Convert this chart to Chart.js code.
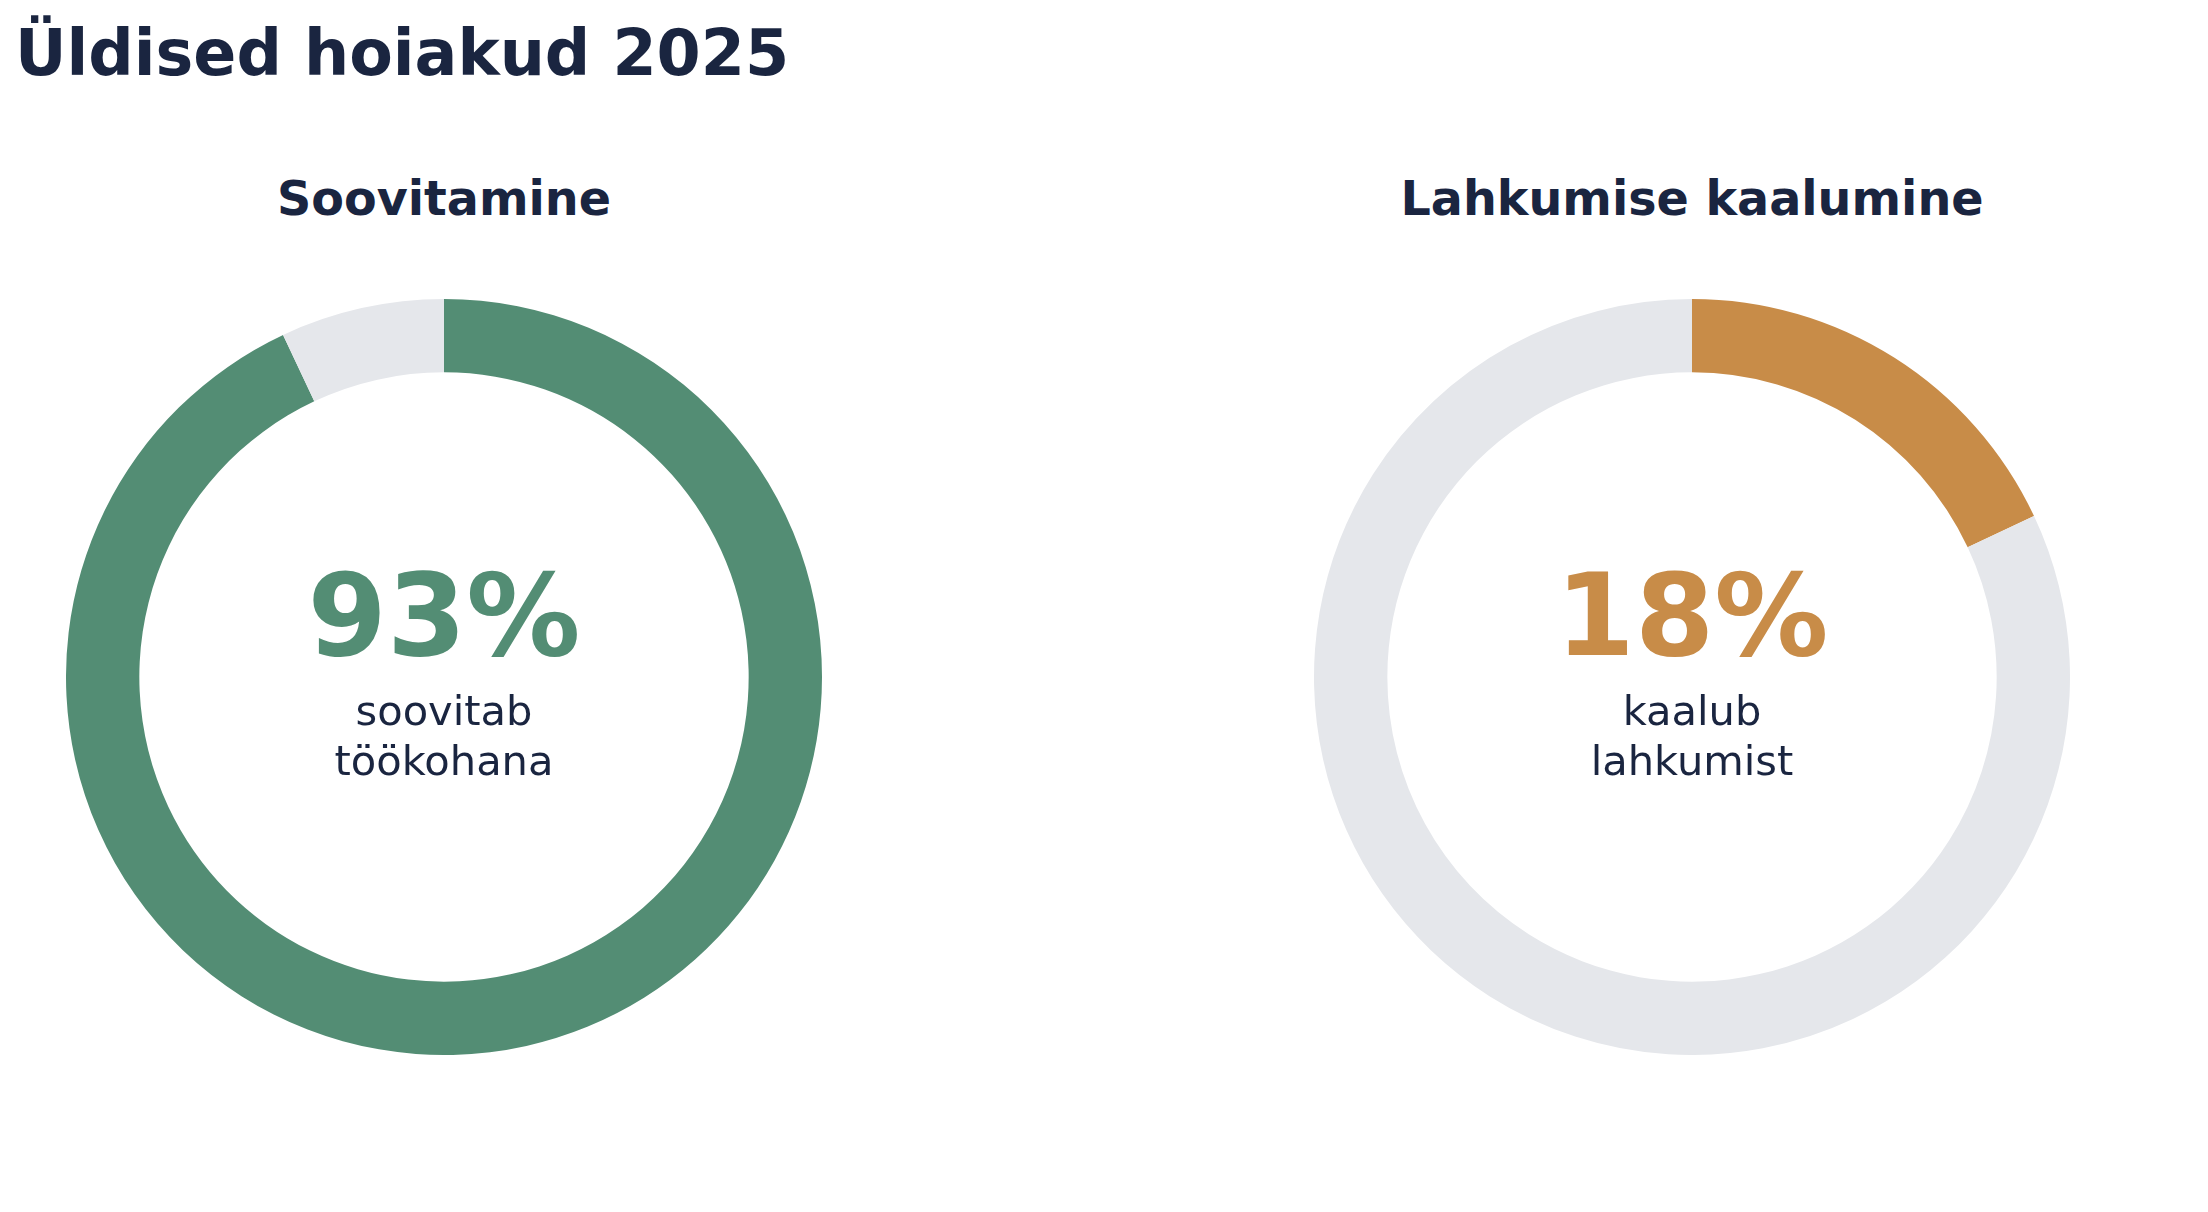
<!DOCTYPE html>
<html lang="et">
<head>
<meta charset="utf-8">
<title>Üldised hoiakud 2025</title>
<script src="https://cdn.jsdelivr.net/npm/chart.js@4.4.1/dist/chart.umd.min.js"></script>
<style>
    html, body {
        margin: 0;
        padding: 0;
        background: #ffffff;
        width: 2208px;
        height: 1212px;
        overflow: hidden;
        font-family: "DejaVu Sans", sans-serif;
        color: #1a2540;
    }
    .abs {
        position: absolute;
        line-height: 1;
        white-space: nowrap;
    }
    #mainTitle {
        left: 15px;
        top: 22px;
        font-size: 63.5px;
        font-weight: bold;
    }
    .panelTitle {
        width: 800px;
        text-align: center;
        top: 175px;
        font-size: 47.6px;
        font-weight: bold;
    }
    .bigValue {
        width: 800px;
        text-align: center;
        top: 559px;
        font-size: 114px;
        font-weight: bold;
    }
    .valueLabel {
        width: 800px;
        text-align: center;
        top: 686px;
        font-size: 41.6px;
        line-height: 50px;
    }
    canvas {
        position: absolute;
    }
</style>
</head>
<body>
<div id="mainTitle" class="abs">Üldised hoiakud 2025</div>

<script>
// Andmed
const panelTitles = ["Soovitamine", "Lahkumise kaalumine"];
const shareValues = [93, 18]; // protsent, kes vastas "jah"
const restValues = [7, 82]; // ülejäänud
const centerLabels = [
    ["soovitab", "töökohana"],
    ["kaalub", "lahkumist"],
];
const shareColors = ["#538d74", "#c88c48"];
const restColor = "#e5e7eb";

// Paneelide keskpunktid lehel
const centersX = [444, 1692];
const centerY = 677;
const size = 756;

const addText = (cls, text, cx, color) => {
    const div = document.createElement("div");
    div.className = "abs " + cls;
    div.style.left = cx - 400 + "px";
    if (color) div.style.color = color;
    div.innerHTML = text;
    document.body.appendChild(div);
};

panelTitles.forEach((title, i) => {
    const cx = centersX[i];

    // Donut
    const canvas = document.createElement("canvas");
    canvas.width = size;
    canvas.height = size;
    canvas.style.left = cx - size / 2 + "px";
    canvas.style.top = centerY - size / 2 + "px";
    canvas.style.width = size + "px";
    canvas.style.height = size + "px";
    document.body.appendChild(canvas);

    new Chart(canvas.getContext("2d"), {
        type: "doughnut",
        data: {
            labels: [centerLabels[i].join(" "), "muu"],
            datasets: [
                {
                    data: [shareValues[i], restValues[i]],
                    backgroundColor: [shareColors[i], restColor],
                    borderWidth: 0,
                    hoverOffset: 0,
                },
            ],
        },
        options: {
            responsive: false,
            devicePixelRatio: 1,
            animation: false,
            cutout: "80.6%",
            layout: { padding: 0 },
            events: [],
            plugins: {
                legend: { display: false },
                tooltip: { enabled: false },
                title: { display: false },
            },
        },
    });

    // Tekstid
    addText("panelTitle", title, cx);
    addText("bigValue", shareValues[i] + "%", cx, shareColors[i]);
    addText("valueLabel", centerLabels[i].join("<br>"), cx);
});
</script>
</body>
</html>
